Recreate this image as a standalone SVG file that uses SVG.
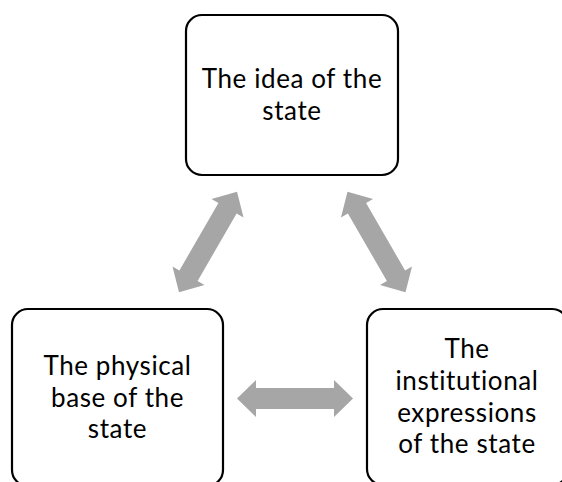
<svg xmlns="http://www.w3.org/2000/svg" width="562" height="482" viewBox="0 0 562 482">
<style>
.box{fill:#ffffff;stroke:#000000;stroke-width:2.2}
.lbl{font-family:Lato,"Open Sans","Liberation Sans",sans-serif;font-size:26px;letter-spacing:0.6px;fill:#000000;text-anchor:middle}
.arr{fill:#A6A6A6}
</style>
<defs>
<path id="dblarrow" d="M-58,0 L-39,-18.5 L-39,-10.5 L39,-10.5 L39,-18.5 L58,0 L39,18.5 L39,10.5 L-39,10.5 L-39,18.5 Z"/>
</defs>
<rect width="562" height="482" fill="#ffffff"/>
<g id="connectors">
<use href="#dblarrow" class="arr" transform="translate(208,242) rotate(-60)"/>
<use href="#dblarrow" class="arr" transform="translate(376.5,242) rotate(60)"/>
<use href="#dblarrow" class="arr" transform="translate(295,398.5)"/>
</g>
<g id="node-idea">
<rect class="box" x="186" y="15" width="212" height="160" rx="16"/>
<text class="lbl"><tspan x="292" y="88">The idea of the</tspan><tspan x="292" y="120">state</tspan></text>
</g>
<g id="node-physical">
<rect class="box" x="12" y="309" width="211" height="177" rx="16"/>
<text class="lbl"><tspan x="117.5" y="375">The physical</tspan><tspan x="117.5" y="406.5">base of the</tspan><tspan x="117.5" y="438">state</tspan></text>
</g>
<g id="node-institutional">
<rect class="box" x="367" y="309" width="201" height="176" rx="16"/>
<text class="lbl"><tspan x="467" y="358">The</tspan><tspan x="467" y="390">institutional</tspan><tspan x="467" y="421.5">expressions</tspan><tspan x="467" y="453">of the state</tspan></text>
</g>
</svg>
